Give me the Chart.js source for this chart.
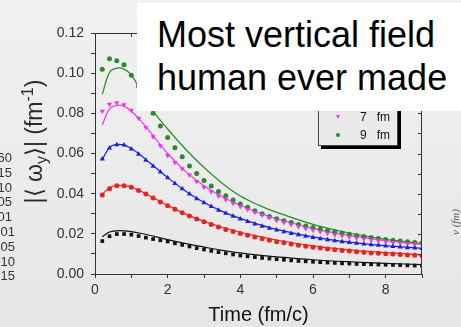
<!DOCTYPE html>
<html>
<head>
<meta charset="utf-8">
<script src="https://cdn.jsdelivr.net/npm/chart.js@4.4.1/dist/chart.umd.min.js"></script>
<style>
  html, body { margin: 0; padding: 0; }
  body {
    width: 461px; height: 327px; overflow: hidden; position: relative;
    background: linear-gradient(#f1f1f1, #e6e6e6);
    font-family: "Liberation Sans", Arial, sans-serif;
  }
  #wrap { position: absolute; left: 0; top: 0; width: 461px; height: 327px; }
  .side { position: absolute; font-size: 13px; color: #333; text-align: right; line-height: 13px; }
  #legend {
    position: absolute; left: 318px; top: 70px; width: 78px; height: 74px;
    border: 1px solid #444; box-shadow: 3px 3px 0 #000; background: #eaeaea;
    font-size: 12px; color: #111;
  }
  #legend .row { position: absolute; left: 0; width: 78px; height: 14px; line-height: 14px; }
  #legend .lab { position: absolute; left: 41px; white-space: pre; }
  .tri { position: absolute; left: 17px; top: 5px; width: 0; height: 0;
    border-left: 2.5px solid transparent; border-right: 2.5px solid transparent; border-top: 4px solid #e83ae8; }
  .dot { position: absolute; left: 17px; top: 5px; width: 4px; height: 4px; border-radius: 50%; background: #2a8a2a; }
  #note {
    position: absolute; left: 137px; top: 3px; width: 324px; height: 108px; background: #fff;
    font-size: 36px; color: #000; line-height: 43px; box-sizing: border-box; padding: 10px 0 0 20px;
    white-space: nowrap;
  }
  #vlab {
    position: absolute; left: 430px; top: 216px; width: 50px; text-align: center;
    font-family: "Liberation Serif", serif; font-style: italic; font-size: 11px; color: #555;
    transform: rotate(-90deg);
  }
</style>
</head>
<body>
<div id="wrap"><canvas id="chart" width="461" height="327"></canvas></div>
<div id="sideLabels"></div>
<div id="legend">
  <div class="row" style="top:39px"><span class="tri"></span><span class="lab">7   fm</span></div>
  <div class="row" style="top:57px"><span class="dot"></span><span class="lab">9   fm</span></div>
</div>
<div id="vlab">v (fm)</div>
<div id="note">Most vertical field<br>human ever made</div>
<script>
const TIMES = [0.2, 0.4, 0.6, 0.8, 1.0, 1.2, 1.4, 1.6, 1.8, 2.0,
  2.2, 2.4, 2.6, 2.8, 3.0, 3.2, 3.4, 3.6, 3.8, 4.0,
  4.2, 4.4, 4.6, 4.8, 5.0, 5.2, 5.4, 5.6, 5.8, 6.0,
  6.2, 6.4, 6.6, 6.8, 7.0, 7.2, 7.4, 7.6, 7.8, 8.0,
  8.2, 8.4, 8.6, 8.8, 9.0];
const FIT_TIMES = [0.2, 0.4, 0.6, 0.8, 1.0, 1.25, 1.5, 2, 2.5, 3, 3.5, 4, 4.5, 5, 6, 7, 8, 9];

const SERIES_NAMES = ['1 fm', '3 fm', '5 fm', '7 fm', '9 fm'];
const SERIES_COLORS = ['#111111', '#e8221e', '#1f1fd8', '#e83ae8', '#2a8a2a'];

// scattered points (|<omega_y>|, fm^-1)
const BLACK_PTS = [.0164, .0188, .0199, .0199, .0196, .0189, .0181, .0174, .0168, .0162,
  .0153, .0145, .0137, .0129, .0122, .0115, .0109, .0103, .0097, .0092,
  .0088, .0084, .0080, .0077, .0074, .0071, .0068, .0065, .0063, .0061,
  .0059, .0057, .0055, .0053, .0052, .0050, .0049, .0048, .0047, .0046,
  .0045, .0044, .0043, .0042, .0041];
const RED_PTS = [.0393, .0425, .0440, .0440, .0432, .0416, .0398, .0379, .0359, .0340,
  .0322, .0305, .0289, .0274, .0260, .0246, .0234, .0222, .0212, .0202,
  .0193, .0184, .0176, .0168, .0161, .0155, .0149, .0143, .0138, .0133,
  .0129, .0125, .0121, .0117, .0114, .0111, .0108, .0105, .0103, .0101,
  .0099, .0097, .0095, .0093, .0091];
const BLUE_PTS = [.0573, .0627, .0644, .0642, .0622, .0596, .0566, .0537, .0508, .0479,
  .0451, .0424, .0398, .0375, .0355, .0336, .0318, .0302, .0287, .0274,
  .0261, .0249, .0238, .0228, .0219, .0210, .0202, .0195, .0188, .0182,
  .0176, .0171, .0166, .0161, .0157, .0153, .0149, .0146, .0143, .0140,
  .0137, .0134, .0131, .0129, .0127];
const MAGENTA_PTS = [.0810, .0845, .0853, .0843, .0815, .0776, .0730, .0684, .0638, .0590,
  .0555, .0524, .0493, .0460, .0432, .0410, .0389, .0370, .0352, .0336,
  .0321, .0307, .0294, .0281, .0268, .0257, .0246, .0236, .0227, .0218,
  .0210, .0203, .0196, .0190, .0184, .0179, .0174, .0169, .0165, .0161,
  .0157, .0154, .0151, .0148, .0145];
const GREEN_PTS = [.1020, .1072, .1062, .1042, .0990, .0935, .0865, .0800, .0737, .0680,
  .0629, .0584, .0538, .0501, .0466, .0438, .0411, .0390, .0368, .0349,
  .0332, .0315, .0300, .0286, .0275, .0265, .0256, .0247, .0239, .0231,
  .0224, .0217, .0210, .0204, .0198, .0192, .0187, .0182, .0177, .0172,
  .0168, .0164, .0160, .0157, .0154];

// fitted curves
const BLACK_FIT = [.0186, .0209, .0215, .0215, .0211, .0203, .0193, .0171, .0151, .0134, .0118, .0105, .0094, .0085, .0071, .0061, .0053, .0047];
const RED_FIT = [.0397, .0430, .0441, .0440, .0433, .0413, .0390, .0342, .0298, .0262, .0233, .0208, .0187, .0169, .0140, .0120, .0106, .0096];
const BLUE_FIT = [.0570, .0630, .0645, .0642, .0625, .0593, .0555, .0480, .0412, .0356, .0312, .0277, .0247, .0222, .0185, .0159, .0141, .0128];
const MAGENTA_FIT = [.0742, .0822, .0840, .0835, .0810, .0765, .0712, .0600, .0510, .0440, .0385, .0342, .0305, .0275, .0227, .0192, .0166, .0148];
const GREEN_FIT = [.0895, .1004, .1025, .1020, .0990, .0915, .0835, .0722, .0620, .0530, .0452, .0388, .0343, .0307, .0247, .0204, .0173, .0152];

const Y_TICKS = [0, 0.02, 0.04, 0.06, 0.08, 0.10, 0.12];
const X_TICKS = [0, 2, 4, 6, 8];
const SIDE_TEXTS = ['60', '15', '10', '05', '01', '.01', '.05', '.10', '.15'];

const pointSets = [BLACK_PTS, RED_PTS, BLUE_PTS, MAGENTA_PTS, GREEN_PTS];
const fitSets = [BLACK_FIT, RED_FIT, BLUE_FIT, MAGENTA_FIT, GREEN_FIT];
const markers = [
  { style: 'rect', r: 2.6, rot: 0 },
  { style: 'circle', r: 2.5, rot: 0 },
  { style: 'triangle', r: 3, rot: 0 },
  { style: 'triangle', r: 3, rot: 180 },
  { style: 'circle', r: 2.5, rot: 0 }
];

// left-over labels of the neighbouring panel
const side = document.getElementById('sideLabels');
SIDE_TEXTS.forEach((t, i) => {
  const d = document.createElement('div');
  d.className = 'side';
  d.textContent = t;
  d.style.top = (151 + i * 14.8) + 'px';
  d.style.right = (461 - (i < 5 ? 12 : 15)) + 'px';
  side.appendChild(d);
});

const datasets = [];
fitSets.forEach((arr, i) => {
  datasets.push({
    label: SERIES_NAMES[i] + ' fit',
    data: FIT_TIMES.map((t, j) => ({ x: t, y: arr[j] })),
    showLine: true,
    borderColor: SERIES_COLORS[i],
    borderWidth: 1.2,
    pointRadius: 0,
    tension: 0.35,
    order: 2
  });
});
pointSets.forEach((arr, i) => {
  datasets.push({
    label: SERIES_NAMES[i],
    data: TIMES.map((t, j) => ({ x: t, y: arr[j] })),
    showLine: false,
    pointStyle: markers[i].style,
    pointRadius: markers[i].r,
    rotation: markers[i].rot,
    pointBorderWidth: 0,
    backgroundColor: SERIES_COLORS[i],
    borderColor: SERIES_COLORS[i],
    order: 1
  });
});

// mirror axes (top/right) with inward ticks, plus y title with sub/superscript
const framePlugin = {
  id: 'frame',
  afterDraw(chart) {
    const { ctx, chartArea: a, scales } = chart;
    ctx.save();
    ctx.strokeStyle = '#333';
    ctx.lineWidth = 1;
    ctx.beginPath();
    ctx.moveTo(a.left, a.top + 0.5); ctx.lineTo(a.right, a.top + 0.5);
    ctx.moveTo(a.right - 0.5, a.top); ctx.lineTo(a.right - 0.5, a.bottom);
    for (let v = 0; v <= 9; v++) {
      const x = Math.round(scales.x.getPixelForValue(v)) + 0.5;
      ctx.moveTo(x, a.top); ctx.lineTo(x, a.top + 4);
    }
    for (let k = 0; k <= 12; k++) {
      const y = Math.round(scales.y.getPixelForValue(k / 100)) + 0.5;
      ctx.moveTo(a.right, y); ctx.lineTo(a.right - 4, y);
    }
    ctx.stroke();

    // y-axis title
    const big = '23px "Liberation Sans", Arial, sans-serif';
    const small = '16px "Liberation Sans", Arial, sans-serif';
    const parts = [
      { t: '|\u27e8 \u03c9', f: big, dy: 0 },
      { t: 'y', f: small, dy: 5 },
      { t: '\u27e9| (fm', f: big, dy: 0 },
      { t: '-1', f: small, dy: -9 },
      { t: ')', f: big, dy: 0 }
    ];
    let total = 0;
    parts.forEach(p => { ctx.font = p.f; p.w = ctx.measureText(p.t).width; total += p.w; });
    ctx.translate(42, (a.top + a.bottom) / 2 - 12);
    ctx.rotate(-Math.PI / 2);
    ctx.fillStyle = '#2a2a2a';
    ctx.textBaseline = 'alphabetic';
    let x = -total / 2;
    parts.forEach(p => { ctx.font = p.f; ctx.fillText(p.t, x, p.dy); x += p.w; });
    ctx.restore();
  }
};

new Chart(document.getElementById('chart'), {
  type: 'scatter',
  data: { datasets },
  options: {
    responsive: false,
    animation: false,
    layout: { padding: { left: 0, top: 33, right: 39, bottom: 0 } },
    plugins: { legend: { display: false }, tooltip: { enabled: false } },
    scales: {
      x: {
        type: 'linear', min: 0, max: 9,
        afterFit: s => { s.height = 53; },
        ticks: {
          stepSize: 1, color: '#333', padding: 4, maxRotation: 0,
          font: { size: 14, family: '"Liberation Sans", Arial, sans-serif' },
          callback: v => X_TICKS.includes(v) ? String(v) : ''
        },
        grid: { drawOnChartArea: false, tickLength: 4, color: '#333' },
        border: { color: '#333', width: 1 },
        title: {
          display: true, text: 'Time (fm/c)', color: '#111',
          font: { size: 20, family: '"Liberation Sans", Arial, sans-serif' },
          padding: { top: 0, bottom: 0 }
        }
      },
      y: {
        type: 'linear', min: 0, max: 0.12,
        afterFit: s => { s.width = 95; },
        ticks: {
          stepSize: 0.01, color: '#333', padding: 7,
          font: { size: 14, family: '"Liberation Sans", Arial, sans-serif' },
          callback: v => {
            const k = Math.round(v * 100);
            return Y_TICKS.some(t => Math.round(t * 100) === k) ? (k / 100).toFixed(2) : '';
          }
        },
        grid: { drawOnChartArea: false, tickLength: 4, color: '#333' },
        border: { color: '#333', width: 1 }
      }
    }
  },
  plugins: [framePlugin]
});
</script>
</body>
</html>
